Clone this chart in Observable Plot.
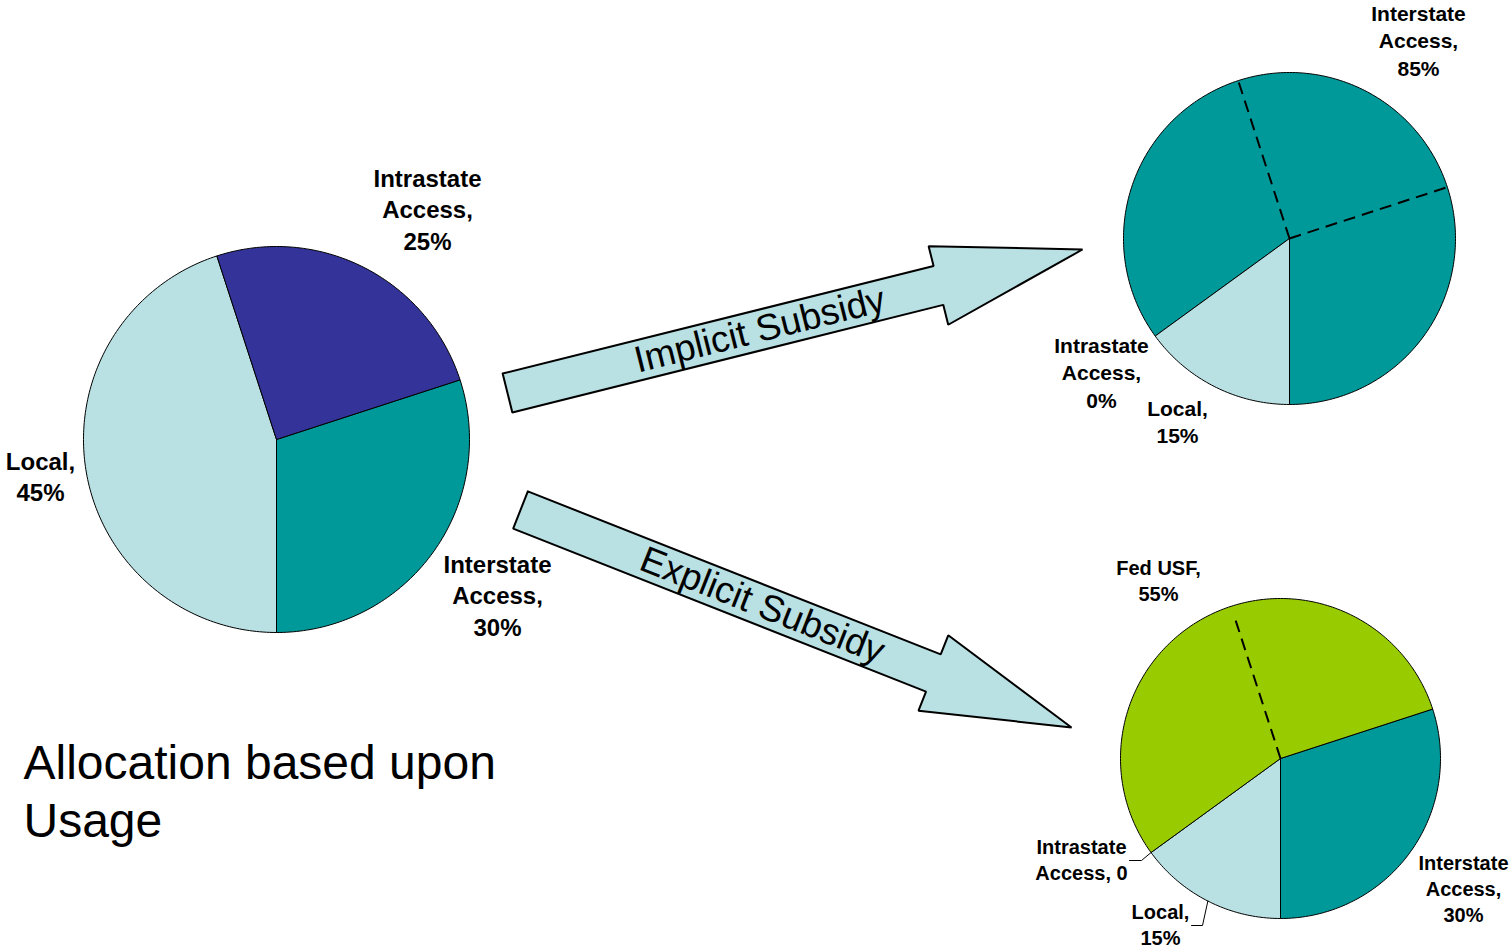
<!DOCTYPE html>
<html>
<head>
<meta charset="utf-8">
<script src="https://cdn.jsdelivr.net/npm/d3@7"></script>
<script src="https://cdn.jsdelivr.net/npm/@observablehq/plot@0.6"></script>
<style>
  html, body { margin: 0; padding: 0; background: #ffffff; }
  #chart svg { display: block; }
</style>
</head>
<body>
<div id="chart"></div>
<script>
// ---------------- DATA ----------------
// slice order in every pie: Interstate Access, Local, Intrastate Access, (Fed USF)
const usageCategories    = ["Interstate Access", "Local", "Intrastate Access"];
const usageValues        = [30, 45, 25];
const implicitCategories = ["Interstate Access", "Local", "Intrastate Access"];
const implicitValues     = [85, 15, 0];
const explicitCategories = ["Interstate Access", "Local", "Intrastate Access", "Fed USF"];
const explicitValues     = [30, 15, 0, 55];

const usageLabels    = ["Interstate\nAccess,\n30%", "Local,\n45%", "Intrastate\nAccess,\n25%"];
const implicitLabels = ["Interstate\nAccess,\n85%", "Local,\n15%", "Intrastate\nAccess,\n0%"];
const explicitLabels = ["Interstate\nAccess,\n30%", "Local,\n15%", "Intrastate\nAccess, 0", "Fed USF,\n55%"];

const arrowTexts = ["Implicit Subsidy", "Explicit Subsidy"];
const titleText  = "Allocation based upon\nUsage";

// ---------------- STYLE / LAYOUT ----------------
const W = 1511, H = 949;
const sliceColors = {
  "Interstate Access": "#009999",
  "Local": "#B9E0E3",
  "Intrastate Access": "#333399",
  "Fed USF": "#99CC00"
};
const arrowFill = "#B9E0E3";

// pie layout: centre, radius, start angle (degrees clockwise from 12 o'clock)
const pies = [
  {id: "usage",    cats: usageCategories,    vals: usageValues,    labels: usageLabels,
   cx: 276,  cy: 439, r: 193, start: 72,  fontSize: 24,
   labelPos: [[497, 594], [40, 475], [427, 208]]},
  {id: "implicit", cats: implicitCategories, vals: implicitValues, labels: implicitLabels,
   cx: 1289, cy: 238, r: 166, start: 234, fontSize: 21,
   labelPos: [[1418, 39], [1177, 420], [1101, 371]]},
  {id: "explicit", cats: explicitCategories, vals: explicitValues, labels: explicitLabels,
   cx: 1280, cy: 758, r: 160, start: 72,  fontSize: 20,
   labelPos: [[1463, 887], [1160, 923], [1081, 858], [1158, 579]]}
];

// arrows: tail centre, tip, shaft width, head length, head width
const arrows = [
  {tail: [507, 392.5], tip: [1082, 249], shaft: 40, headLen: 148.5, headW: 81},
  {tail: [520, 509.5], tip: [1071, 727], shaft: 40, headLen: 148.5, headW: 81}
];

// ---------------- GEOMETRY FROM DATA ----------------
const rad = d => d * Math.PI / 180;
const polar = (p, ang, rr) => ({x: p.cx + rr * Math.sin(rad(ang)), y: p.cy - rr * Math.cos(rad(ang))});

function sliceAngles(p) {
  const total = d3.sum(p.vals);
  let a = p.start;
  return p.vals.map((v, i) => {
    const a0 = a, a1 = a + v / total * 360;
    a = a1;
    return {cat: p.cats[i], v, a0, a1, mid: (a0 + a1) / 2};
  });
}

const slicePts = [];
const labelRows = [];
const angleInfo = {};
for (const p of pies) {
  const sl = sliceAngles(p);
  angleInfo[p.id] = sl;
  sl.forEach((s, i) => {
    if (s.v > 0) {
      const id = p.id + "-" + i;
      const c = sliceColors[s.cat];
      slicePts.push({id, color: c, x: p.cx, y: p.cy});
      const n = Math.max(2, Math.ceil(s.a1 - s.a0));
      for (let k = 0; k <= n; k++) {
        const pt = polar(p, s.a0 + (s.a1 - s.a0) * k / n, p.r);
        slicePts.push({id, color: c, ...pt});
      }
      slicePts.push({id, color: c, x: p.cx, y: p.cy});
    }
    labelRows.push({text: p.labels[i], x: p.labelPos[i][0], y: p.labelPos[i][1], size: p.fontSize});
  });
}

// dashed lines mark where the original "usage" slices lay
const intraUsage = angleInfo["usage"][2];
const dashRows = [
  {pie: pies[1], ang: intraUsage.a0, len: 1},
  {pie: pies[1], ang: intraUsage.a1, len: 1},
  {pie: pies[2], ang: intraUsage.a0, len: 0.94}
].map(d => {
  const e = polar(d.pie, d.ang, d.pie.r * d.len);
  return {x1: d.pie.cx, y1: d.pie.cy, x2: e.x, y2: e.y};
});

// leader lines for the explicit pie (Local and Intrastate labels)
const expSl = angleInfo["explicit"];
const leaderDefs = [
  {slice: 2, from: [1129, 860], elbow: [1141, 860]},
  {slice: 1, from: [1191, 925], elbow: [1202, 925]}
];
const leaderPts = [];
leaderDefs.forEach((l, i) => {
  const rim = polar(pies[2], expSl[l.slice].mid, pies[2].r);
  leaderPts.push({id: i, x: l.from[0], y: l.from[1]});
  leaderPts.push({id: i, x: l.elbow[0], y: l.elbow[1]});
  leaderPts.push({id: i, x: rim.x, y: rim.y});
});

// arrow polygons
const arrowPts = [];
const arrowTextRows = [];
arrows.forEach((a, i) => {
  const dx = a.tip[0] - a.tail[0], dy = a.tip[1] - a.tail[1];
  const L = Math.hypot(dx, dy), ux = dx / L, uy = dy / L, nx = -uy, ny = ux;
  const P = (s, n) => ({id: i, x: a.tail[0] + ux * s + nx * n, y: a.tail[1] + uy * s + ny * n});
  const b = L - a.headLen;
  [P(0, -a.shaft / 2), P(b, -a.shaft / 2), P(b, -a.headW / 2), P(L, 0),
   P(b, a.headW / 2), P(b, a.shaft / 2), P(0, a.shaft / 2), P(0, -a.shaft / 2)]
    .forEach(p => arrowPts.push(p));
  const c = P(260, 0);
  arrowTextRows.push({text: arrowTexts[i], x: c.x, y: c.y, rot: Math.atan2(dy, dx) * 180 / Math.PI});
});

// ---------------- PLOT ----------------
const font = "'Liberation Sans', Arial, Helvetica, sans-serif";
const marks = [
  Plot.line(arrowPts, {x: "x", y: "y", z: "id", fill: arrowFill, stroke: "black",
    strokeWidth: 2, strokeLinejoin: "miter", curve: "linear"}),
  ...arrowTextRows.map(t => Plot.text([t], {x: "x", y: "y", text: "text", rotate: t.rot,
    fontSize: 37, fontFamily: font, fill: "black", textAnchor: "middle"})),
  Plot.line(slicePts, {x: "x", y: "y", z: "id", fill: "color", stroke: "black",
    strokeWidth: 1, strokeLinejoin: "round", curve: "linear"}),
  Plot.link(dashRows, {x1: "x1", y1: "y1", x2: "x2", y2: "y2", stroke: "black",
    strokeWidth: 2, strokeDasharray: "12,7"}),
  Plot.line(leaderPts, {x: "x", y: "y", z: "id", stroke: "black", strokeWidth: 1}),
  ...[24, 21, 20].map(sz => Plot.text(labelRows.filter(d => d.size === sz), {
    x: "x", y: "y", text: "text", fontSize: sz, fontWeight: "bold", fontFamily: font,
    lineHeight: 1.3, textAnchor: "middle", fill: "black"})),
  Plot.text([{text: titleText}], {x: () => 23, y: () => 789, text: "text", fontSize: 48,
    fontFamily: font, lineHeight: 1.2, textAnchor: "start", fill: "black"})
];

const chart = Plot.plot({
  width: W, height: H, margin: 0,
  x: {domain: [0, W], range: [0, W], axis: null},
  y: {domain: [0, H], range: [0, H], axis: null},
  color: {type: "identity"},
  style: {background: "#ffffff", fontFamily: font, overflow: "visible"},
  marks
});
document.getElementById("chart").appendChild(chart);
</script>
</body>
</html>
